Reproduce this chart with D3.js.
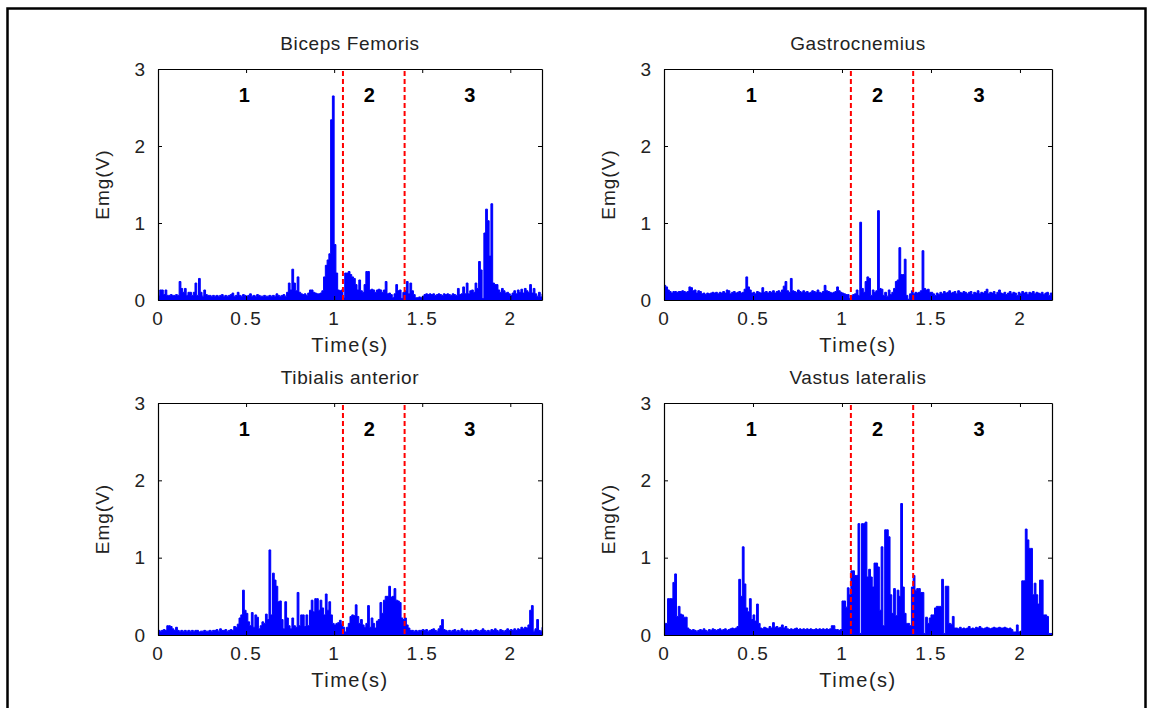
<!DOCTYPE html>
<html>
<head>
<meta charset="utf-8">
<script src="https://cdn.jsdelivr.net/npm/d3@7"></script>
<style>
	body { margin: 0; background: #fff; }
	text { font-family: "Liberation Sans", Arial, sans-serif; fill: #000; }
</style>
</head>
<body>
<svg id="svg"></svg>
<script>
"use strict";

// sample spacing of the rectified EMG (s)
var timeStep = 0.01;

var bicepsFemoris = [
	0.06,0.13,0.13,0.07,0.13,0.06,0.06,0.07,0.06,0.06,
	0.07,0.06,0.24,0.15,0.10,0.15,0.06,0.10,0.10,0.06,
	0.10,0.22,0.06,0.28,0.10,0.05,0.13,0.07,0.06,0.06,
	0.05,0.06,0.05,0.06,0.05,0.06,0.07,0.05,0.06,0.05,
	0.06,0.07,0.09,0.05,0.06,0.10,0.06,0.05,0.07,0.06,
	0.05,0.06,0.08,0.05,0.06,0.05,0.07,0.06,0.05,0.05,
	0.06,0.05,0.05,0.06,0.05,0.06,0.05,0.08,0.06,0.05,
	0.06,0.07,0.05,0.10,0.22,0.13,0.40,0.22,0.12,0.30,
	0.10,0.08,0.07,0.08,0.06,0.09,0.13,0.13,0.10,0.09,
	0.08,0.08,0.09,0.12,0.30,0.45,0.52,0.60,2.34,2.65,
	0.72,0.35,0.13,0.12,0.13,0.03,0.35,0.35,0.37,0.33,
	0.30,0.28,0.20,0.13,0.26,0.12,0.10,0.20,0.37,0.37,
	0.13,0.14,0.13,0.10,0.13,0.14,0.13,0.10,0.13,0.24,
	0.08,0.09,0.07,0.03,0.08,0.20,0.12,0.13,0.02,0.10,
	0.12,0.24,0.08,0.22,0.12,0.07,0.03,0.03,0.04,0.03,
	0.05,0.07,0.08,0.07,0.08,0.07,0.08,0.06,0.07,0.08,
	0.07,0.06,0.08,0.07,0.08,0.07,0.06,0.08,0.07,0.06,
	0.15,0.07,0.08,0.17,0.08,0.22,0.08,0.12,0.13,0.10,
	0.22,0.15,0.50,0.39,0.02,0.87,1.18,1.03,0.57,1.25,
	0.22,0.20,0.20,0.13,0.10,0.15,0.12,0.09,0.10,0.08,
	0.06,0.09,0.12,0.08,0.13,0.10,0.14,0.09,0.15,0.12,
	0.10,0.20,0.09,0.15,0.08,0.05,0.10,0.04,0.08
];

var gastrocnemius = [
	0.19,0.17,0.13,0.11,0.09,0.11,0.11,0.10,0.11,0.11,
	0.12,0.11,0.10,0.11,0.17,0.16,0.12,0.13,0.09,0.12,
	0.11,0.08,0.09,0.07,0.09,0.08,0.09,0.10,0.09,0.10,
	0.08,0.10,0.09,0.11,0.09,0.13,0.12,0.08,0.10,0.11,
	0.09,0.10,0.11,0.09,0.10,0.14,0.30,0.17,0.13,0.09,
	0.10,0.08,0.11,0.10,0.09,0.16,0.10,0.11,0.09,0.11,
	0.10,0.12,0.09,0.11,0.12,0.10,0.13,0.18,0.24,0.12,
	0.10,0.28,0.12,0.11,0.10,0.13,0.11,0.10,0.12,0.10,
	0.11,0.09,0.10,0.12,0.11,0.10,0.13,0.10,0.09,0.11,
	0.19,0.12,0.11,0.10,0.09,0.10,0.11,0.17,0.12,0.10,
	0.09,0.08,0.07,0.07,0.02,0.06,0.07,0.08,0.13,0.06,
	1.01,0.15,0.10,0.24,0.30,0.28,0.06,0.13,0.10,0.12,
	1.16,0.15,0.14,0.06,0.10,0.05,0.13,0.07,0.10,0.15,
	0.24,0.26,0.68,0.33,0.33,0.53,0.06,0.01,0.08,0.12,
	0.08,0.10,0.09,0.10,0.12,0.64,0.15,0.13,0.14,0.10,
	0.10,0.08,0.06,0.09,0.07,0.10,0.08,0.11,0.09,0.10,
	0.12,0.09,0.10,0.11,0.08,0.12,0.10,0.09,0.11,0.10,
	0.08,0.10,0.11,0.07,0.10,0.09,0.12,0.08,0.10,0.09,
	0.11,0.14,0.08,0.10,0.09,0.11,0.07,0.10,0.13,0.09,
	0.08,0.10,0.07,0.09,0.11,0.08,0.10,0.09,0.06,0.10,
	0.08,0.11,0.09,0.10,0.07,0.10,0.09,0.11,0.08,0.10,
	0.09,0.08,0.10,0.07,0.09,0.10,0.06,0.09,0.07
];

var tibialisAnterior = [
	0.06,0.05,0.06,0.07,0.06,0.12,0.12,0.11,0.08,0.06,
	0.10,0.06,0.05,0.06,0.05,0.06,0.05,0.06,0.05,0.06,
	0.05,0.06,0.06,0.04,0.05,0.05,0.06,0.05,0.05,0.06,
	0.05,0.06,0.06,0.07,0.05,0.08,0.06,0.06,0.07,0.05,
	0.06,0.07,0.06,0.11,0.10,0.14,0.22,0.26,0.58,0.32,
	0.28,0.17,0.12,0.29,0.10,0.26,0.23,0.08,0.12,0.17,
	0.15,0.27,0.20,1.10,0.26,0.80,0.71,0.63,0.43,0.44,
	0.20,0.08,0.43,0.22,0.12,0.08,0.22,0.12,0.10,0.55,
	0.12,0.26,0.26,0.11,0.26,0.12,0.32,0.45,0.30,0.47,
	0.47,0.32,0.45,0.35,0.26,0.53,0.32,0.43,0.26,0.15,
	0.13,0.15,0.16,0.19,0.14,0.10,0.04,0.10,0.15,0.24,
	0.26,0.25,0.39,0.24,0.15,0.20,0.13,0.10,0.15,0.38,
	0.10,0.22,0.15,0.09,0.18,0.20,0.42,0.28,0.45,0.50,
	0.50,0.63,0.49,0.50,0.60,0.45,0.44,0.42,0.22,0.20,
	0.22,0.13,0.09,0.06,0.06,0.05,0.06,0.05,0.06,0.06,
	0.07,0.06,0.07,0.05,0.06,0.07,0.08,0.06,0.05,0.08,
	0.12,0.20,0.07,0.06,0.05,0.06,0.05,0.06,0.07,0.05,
	0.06,0.05,0.08,0.06,0.05,0.06,0.05,0.06,0.05,0.06,
	0.07,0.06,0.05,0.06,0.08,0.06,0.05,0.06,0.05,0.07,
	0.06,0.08,0.06,0.05,0.07,0.06,0.05,0.06,0.08,0.06,
	0.07,0.06,0.08,0.06,0.08,0.07,0.10,0.08,0.10,0.09,
	0.13,0.32,0.38,0.05,0.08,0.20,0.06,0.05,0.10
];

var vastusLateralis = [
	0.15,0.15,0.47,0.47,0.47,0.68,0.79,0.24,0.37,0.27,
	0.26,0.23,0.23,0.09,0.07,0.06,0.07,0.06,0.05,0.06,
	0.07,0.06,0.08,0.06,0.05,0.07,0.06,0.08,0.07,0.06,
	0.07,0.08,0.06,0.07,0.08,0.06,0.07,0.08,0.09,0.08,
	0.09,0.11,0.72,0.50,1.14,0.66,0.35,0.30,0.47,0.20,
	0.26,0.18,0.40,0.15,0.09,0.08,0.10,0.09,0.08,0.11,
	0.09,0.16,0.10,0.11,0.09,0.10,0.13,0.09,0.11,0.08,
	0.07,0.08,0.07,0.08,0.09,0.07,0.08,0.07,0.08,0.07,
	0.08,0.07,0.08,0.07,0.07,0.08,0.07,0.08,0.07,0.08,
	0.07,0.08,0.07,0.08,0.12,0.12,0.07,0.07,0.06,0.07,
	0.44,0.44,0.36,0.61,0.52,0.83,0.83,0.77,0.77,1.44,
	0.02,1.44,1.44,1.46,0.75,0.85,0.75,0.62,0.93,0.93,
	0.88,0.32,1.14,0.12,1.36,1.36,1.27,0.52,0.28,0.60,
	0.25,0.58,0.50,1.70,0.62,0.28,0.15,0.15,0.12,0.62,
	0.77,0.58,0.60,0.60,0.55,0.55,0.02,0.23,0.15,0.22,
	0.26,0.26,0.35,0.37,0.37,0.37,0.72,0.02,0.63,0.63,
	0.15,0.14,0.24,0.09,0.09,0.08,0.10,0.08,0.09,0.08,
	0.09,0.11,0.08,0.09,0.08,0.10,0.09,0.11,0.09,0.08,
	0.09,0.10,0.09,0.08,0.09,0.10,0.09,0.09,0.10,0.09,
	0.09,0.10,0.09,0.08,0.09,0.07,0.04,0.04,0.13,0.04,
	0.05,0.70,0.70,1.37,1.23,1.12,1.12,0.52,0.67,0.52,
	0.40,0.71,0.71,0.26,0.26,0.24,0.02,0.02,0.02
];

var muscleNames = ["Biceps Femoris", "Gastrocnemius", "Tibialis anterior", "Vastus lateralis"];
var muscleSeries = [bicepsFemoris, gastrocnemius, tibialisAnterior, vastusLateralis];

var timeDomain = [0, 2.18];
var emgDomain = [0, 3];
var xTickValues = [0, 0.5, 1, 1.5, 2];
var yTickValues = [0, 1, 2, 3];

// phase boundaries (s) and phase labels placed at these times
var phaseBounds = [1.05, 1.40];
var phaseLabels = ["1", "2", "3"];
var phaseLabelTimes = [0.49, 1.2, 1.77];

var
	width  = 1152,
	height = 708,

	// axes boxes: [left, right] columns and [top, bottom] rows
	cols = [[158, 542], [664, 1052]],
	rows = [[69, 300], [403, 635]],

	svg = d3.select("#svg")
			.attr("width", width)
			.attr("height", height);

// outer frame
svg.append("rect")
	.attr("x", 7.5)
	.attr("y", 8.5)
	.attr("width", 1138)
	.attr("height", 720)
	.style("fill", "none")
	.style("stroke", "#000")
	.style("stroke-width", 2.5);

muscleSeries.forEach(function(series, k){

	var col = cols[k % 2],
		row = rows[Math.floor(k / 2)],

		x = d3.scaleLinear().domain(timeDomain).range(col),
		y = d3.scaleLinear().domain(emgDomain).range([row[1], row[0]]),

		g = svg.append("g").attr("class", "panel");

	var pts = series.map(function(v, i){ return [i * timeStep, v]; });
	pts.push([series.length * timeStep, series[series.length - 1]]);

	var clipId = "clip" + k;
	g.append("clipPath").attr("id", clipId)
		.append("rect")
		.attr("x", col[0]).attr("y", row[0])
		.attr("width", col[1] - col[0]).attr("height", row[1] - row[0]);

	var area = d3.area()
		.x(function(d){ return x(d[0]); })
		.y0(y(0))
		.y1(function(d){ return y(d[1]); })
		.curve(d3.curveStepAfter);

	var line = d3.line()
		.x(function(d){ return x(d[0]); })
		.y(function(d){ return y(d[1]); })
		.curve(d3.curveStepAfter);

	var plot = g.append("g").attr("clip-path", "url(#" + clipId + ")");

	plot.append("path")
		.datum(pts)
		.attr("d", area)
		.style("fill", "#0000ff");

	plot.append("path")
		.datum(pts)
		.attr("d", line)
		.style("fill", "none")
		.style("stroke", "#0000ff")
		.style("stroke-width", 1);

	// phase boundaries
	g.selectAll("line.phase")
		.data(phaseBounds)
		.enter()
		.append("line")
		.attr("class", "phase")
		.attr("x1", function(d){ return x(d); })
		.attr("x2", function(d){ return x(d); })
		.attr("y1", row[0] + 2)
		.attr("y2", row[1])
		.style("stroke", "#ff0000")
		.style("stroke-width", 2)
		.style("stroke-dasharray", "5,3");

	// axes, ticks pointing inward like matlab
	g.append("g")
		.attr("transform", "translate(0," + row[1] + ")")
		.call(d3.axisBottom(x).tickValues(xTickValues).tickSizeInner(-4).tickSizeOuter(0).tickPadding(12)
			.tickFormat(d3.format("")));

	g.append("g")
		.attr("transform", "translate(0," + row[0] + ")")
		.call(d3.axisTop(x).tickValues(xTickValues).tickSizeInner(-4).tickSizeOuter(0).tickFormat(""));

	g.append("g")
		.attr("transform", "translate(" + col[0] + ",0)")
		.call(d3.axisLeft(y).tickValues(yTickValues).tickSizeInner(-4).tickSizeOuter(0).tickPadding(11)
			.tickFormat(d3.format("d")));

	g.append("g")
		.attr("transform", "translate(" + col[1] + ",0)")
		.call(d3.axisRight(y).tickValues(yTickValues).tickSizeInner(-4).tickSizeOuter(0).tickFormat(""));

	g.selectAll(".domain").style("stroke", "#000").style("stroke-width", 1.2);
	g.selectAll(".tick line").style("stroke", "#000");
	g.selectAll(".tick text")
		.style("font-family", "'Liberation Sans', Arial, sans-serif")
		.style("font-size", "19px")
		.style("letter-spacing", "2px")
		.style("fill", "#222");

	// phase numbers
	g.selectAll("text.phase")
		.data(phaseLabels)
		.enter()
		.append("text")
		.attr("class", "phase")
		.attr("x", function(d, i){ return x(phaseLabelTimes[i]); })
		.attr("y", row[0] + 33)
		.attr("text-anchor", "middle")
		.style("font-size", "20px")
		.style("font-weight", "bold")
		.text(function(d){ return d; });

	// title
	g.append("text")
		.attr("x", (col[0] + col[1]) / 2)
		.attr("y", row[0] - 19)
		.attr("text-anchor", "middle")
		.style("font-size", "19px")
		.style("letter-spacing", "0.6px")
		.style("fill", "#222")
		.text(muscleNames[k]);

	// x label
	g.append("text")
		.attr("x", (col[0] + col[1]) / 2)
		.attr("y", row[1] + 52)
		.attr("text-anchor", "middle")
		.style("font-size", "20px")
		.style("letter-spacing", "1.5px")
		.style("fill", "#222")
		.text("Time(s)");

	// y label
	g.append("text")
		.attr("transform", "translate(" + (col[0] - 49) + "," + ((row[0] + row[1]) / 2) + ") rotate(-90)")
		.attr("text-anchor", "middle")
		.style("font-size", "19px")
		.style("letter-spacing", "1px")
		.style("fill", "#222")
		.text("Emg(V)");
});
</script>
</body>
</html>
